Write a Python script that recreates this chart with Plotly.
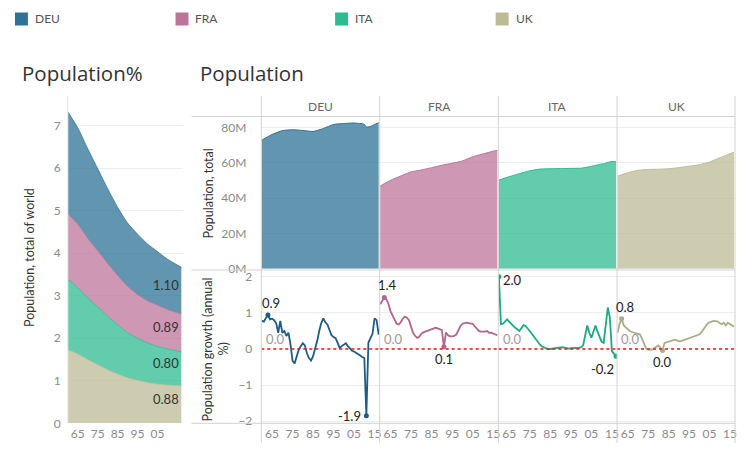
import plotly.graph_objects as go

W, H = 750, 455          # target picture size (coordinates are designed in these pixels)
FIG_H = 463              # the captured page is slightly taller than the window and is squeezed to 455

def px(x):
    return x / W

def py(y):
    return 1 - y / H

COUNTRIES = ["DEU", "FRA", "ITA", "UK"]
BASE_COLORS = ["#2e7396", "#bd7499", "#2dbb91", "#bcbb96"]
FILL_COLORS = ["rgba(46,115,150,0.75)", "rgba(189,116,153,0.75)",
               "rgba(45,187,145,0.75)", "rgba(188,187,150,0.75)"]
LINE_COLORS = ["#1f5c82", "#b0668e", "#1aab80", "#adac86"]

PCT_YEARS = [1960, 1965, 1970, 1975, 1980, 1985, 1990, 1995, 2000, 2005, 2010, 2017]
PCT_DEU = [2.40, 2.27, 2.11, 1.93, 1.76, 1.60, 1.49, 1.42, 1.34, 1.26, 1.18, 1.10]
PCT_FRA = [1.54, 1.49, 1.40, 1.32, 1.24, 1.16, 1.09, 1.03, 0.99, 0.97, 0.93, 0.89]
PCT_ITA = [1.66, 1.56, 1.45, 1.36, 1.26, 1.16, 1.06, 0.99, 0.93, 0.89, 0.85, 0.80]
PCT_UK = [1.73, 1.63, 1.50, 1.38, 1.26, 1.16, 1.07, 1.01, 0.96, 0.92, 0.90, 0.88]

POP_YEARS = [1960, 1965, 1970, 1975, 1980, 1985, 1990, 1995, 2000, 2005, 2010, 2011, 2013, 2015, 2017]
POP_DEU = [72.8, 76.0, 78.2, 78.7, 78.3, 77.7, 79.4, 81.7, 82.2, 82.5, 81.8, 80.3, 80.6, 81.7, 82.7]
POP_FRA = [46.8, 50.0, 52.5, 54.8, 55.9, 57.2, 58.6, 59.7, 61.0, 63.4, 65.0, 65.3, 65.9, 66.6, 67.0]
POP_ITA = [50.2, 52.1, 53.8, 55.4, 56.4, 56.6, 56.7, 56.8, 56.9, 58.0, 59.3, 59.4, 60.2, 60.7, 60.5]
POP_UK = [52.4, 54.3, 55.7, 56.2, 56.3, 56.6, 57.2, 58.0, 58.9, 60.4, 62.8, 63.3, 64.1, 65.1, 66.0]

YEARS = list(range(1960, 2018))
GROWTH_DEU = [0.78, 0.76, 0.86, 0.94, 0.82, 0.84, 0.80, 0.72, 0.45, 0.78,
              0.45, 0.50, 0.36, 0.45, 0.13, -0.33, -0.40, -0.20, -0.02, 0.08,
              0.16, 0.10, -0.12, -0.25, -0.32, -0.20, 0.00, 0.22, 0.50, 0.72,
              0.85, 0.74, 0.68, 0.55, 0.38, 0.33, 0.30, 0.17, 0.03, 0.08,
              0.12, 0.16, 0.08, 0.02, -0.05, -0.07, -0.10, -0.13, -0.18, -0.22,
              -0.25, -1.85, 0.18, 0.30, 0.42, 0.85, 0.80, 0.40]
GROWTH_FRA = [1.24, 1.35, 1.43, 1.38, 1.25, 1.05, 0.92, 0.78, 0.70, 0.68,
              0.74, 0.84, 0.90, 0.87, 0.80, 0.62, 0.45, 0.36, 0.31, 0.34,
              0.42, 0.46, 0.48, 0.51, 0.54, 0.56, 0.58, 0.59, 0.57, 0.54,
              0.52, 0.06, 0.46, 0.38, 0.35, 0.35, 0.36, 0.40, 0.52, 0.63,
              0.70, 0.72, 0.73, 0.72, 0.72, 0.70, 0.63, 0.57, 0.50, 0.48,
              0.47, 0.48, 0.50, 0.45, 0.45, 0.42, 0.40, 0.38]
GROWTH_ITA = [2.00, 0.69, 0.70, 0.76, 0.82, 0.76, 0.69, 0.64, 0.59, 0.54,
              0.50, 0.58, 0.66, 0.64, 0.58, 0.50, 0.42, 0.34, 0.26, 0.18,
              0.12, 0.07, 0.04, 0.02, 0.00, 0.00, 0.01, 0.02, 0.04, 0.05,
              0.05, 0.05, 0.04, 0.02, 0.01, 0.02, 0.03, 0.03, 0.03, 0.03,
              0.05, 0.10, 0.40, 0.65, 0.45, 0.31, 0.48, 0.65, 0.48, 0.31,
              0.20, 0.17, 0.65, 1.15, 0.87, -0.06, -0.13, -0.20]
GROWTH_UK = [0.45, 0.70, 0.84, 0.66, 0.60, 0.54, 0.50, 0.47, 0.45, 0.43,
             0.41, 0.40, 0.28, 0.12, 0.01, -0.02, -0.03, -0.02, 0.03, 0.07,
             0.10, 0.03, -0.04, 0.17, 0.19, 0.21, 0.23, 0.25, 0.26, 0.24,
             0.21, 0.22, 0.24, 0.26, 0.28, 0.30, 0.31, 0.33, 0.36, 0.38,
             0.40, 0.46, 0.54, 0.62, 0.70, 0.74, 0.77, 0.78, 0.77, 0.76,
             0.72, 0.69, 0.73, 0.65, 0.73, 0.70, 0.65, 0.62]

X_TICKS = [1965, 1975, 1985, 1995, 2005, 2015]
X_TICK_TEXT = ["65", "75", "85", "95", "05", "15"]
POP_TICKS = [0, 20, 40, 60, 80]
POP_TICK_TEXT = ["0M", "20M", "40M", "60M", "80M"]
GROWTH_TICKS = [-2, -1, 0, 1, 2]

PCTS = [PCT_DEU, PCT_FRA, PCT_ITA, PCT_UK]
POPS = [POP_DEU, POP_FRA, POP_ITA, POP_UK]
GROWTHS = [GROWTH_DEU, GROWTH_FRA, GROWTH_ITA, GROWTH_UK]

FONT = "Lato"
TICK_COLOR = "#8a8a8a"
GRID = "#ededed"
SEP = "#d3d3d3"

PANEL_EDGES = [262, 380.7, 499.7, 618.7, 737]
TOP_Y = (115.5, 269)
BOT_Y = (269, 422.3)
XR = [1959.75, 2017.5]

fig = go.Figure()

for i in [3, 2, 1, 0]:
    fig.add_trace(go.Scatter(
        x=PCT_YEARS, y=PCTS[i], stackgroup="pct", mode="lines",
        line=dict(color=BASE_COLORS[i], width=0.8, shape="spline", smoothing=0.6),
        fillcolor=FILL_COLORS[i], showlegend=False, hoverinfo="skip",
        xaxis="x", yaxis="y"))

cum = 0
ends = []
for i in [3, 2, 1, 0]:
    ends.append((i, cum, cum + PCTS[i][-1]))
    cum += PCTS[i][-1]

annotations = []
for i, lo, hi in ends:
    annotations.append(dict(
        x=PCT_YEARS[-1], y=(lo + hi) / 2, xref="x", yref="y",
        text=f"{PCTS[i][-1]:.2f}", showarrow=False, xanchor="right",
        yanchor="middle", yshift=6, font=dict(family=FONT, size=13, color="#333")))

layout_axes = {}
layout_axes["xaxis"] = dict(domain=[px(68), px(183)], range=[1960, 2017.6],
                            tickvals=X_TICKS[:-1], ticktext=X_TICK_TEXT[:-1],
                            showgrid=False, zeroline=False, showline=False,
                            ticks="", ticklabelstandoff=2,
                            tickfont=dict(family=FONT, size=12, color=TICK_COLOR),
                            anchor="y", fixedrange=True)
layout_axes["yaxis"] = dict(domain=[py(422.3), py(95)], range=[0, 7.7],
                            tickvals=[0, 1, 2, 3, 4, 5, 6, 7], showgrid=True,
                            gridcolor=GRID, zeroline=False, showline=False, ticks="",
                            ticklabelstandoff=6,
                            tickfont=dict(family=FONT, size=12, color=TICK_COLOR),
                            anchor="x", fixedrange=True)

shapes = []


def fmt(v):
    return f"{round(v, 1) + 0.0:.1f}"


for i in range(4):
    L, R = PANEL_EDGES[i], PANEL_EDGES[i + 1]
    xt = f"x{2 + i}"
    yt = f"y{2 + i}"
    xb = f"x{6 + i}"
    yb = f"y{6 + i}"
    layout_axes[f"xaxis{2 + i}"] = dict(domain=[px(L), px(R)], range=XR, anchor=yt,
                                        showticklabels=False, showgrid=False,
                                        zeroline=False, ticks="", fixedrange=True)
    layout_axes[f"yaxis{2 + i}"] = dict(domain=[py(TOP_Y[1]), py(TOP_Y[0])], range=[-0.8, 86.2],
                                        anchor=xt, tickvals=POP_TICKS, ticktext=POP_TICK_TEXT,
                                        showticklabels=(i == 0), showgrid=True, gridcolor=GRID,
                                        zeroline=False, ticks="", ticklabelstandoff=14,
                                        tickfont=dict(family=FONT, size=12, color=TICK_COLOR),
                                        fixedrange=True)
    layout_axes[f"xaxis{6 + i}"] = dict(domain=[px(L), px(R)], range=XR, anchor=yb,
                                        tickvals=X_TICKS, ticktext=X_TICK_TEXT,
                                        showgrid=False, zeroline=False, ticks="",
                                        ticklabelstandoff=2,
                                        tickfont=dict(family=FONT, size=12, color=TICK_COLOR),
                                        fixedrange=True)
    layout_axes[f"yaxis{6 + i}"] = dict(domain=[py(BOT_Y[1]), py(BOT_Y[0])], range=[-2.06, 2.19],
                                        anchor=xb, tickvals=GROWTH_TICKS,
                                        showticklabels=(i == 0), showgrid=True, gridcolor=GRID,
                                        zeroline=False, ticks="", ticklabelstandoff=8,
                                        tickfont=dict(family=FONT, size=12, color=TICK_COLOR),
                                        fixedrange=True)

    fig.add_trace(go.Scatter(
        x=POP_YEARS, y=POPS[i], fill="tozeroy", mode="lines",
        line=dict(color=BASE_COLORS[i], width=1, shape="spline", smoothing=0.5),
        fillcolor=FILL_COLORS[i], showlegend=False, hoverinfo="skip",
        xaxis=xt, yaxis=yt))

    g = GROWTHS[i]
    fig.add_trace(go.Scatter(
        x=YEARS, y=g, mode="lines", line=dict(color=LINE_COLORS[i], width=1.8),
        showlegend=False, hoverinfo="skip", xaxis=xb, yaxis=yb))
    imax = max(range(len(g)), key=lambda k: g[k])
    imin = min(range(len(g)), key=lambda k: g[k])
    fig.add_trace(go.Scatter(
        x=[YEARS[imax], YEARS[imin]], y=[g[imax], g[imin]], mode="markers",
        marker=dict(color=LINE_COLORS[i], size=5), showlegend=False,
        hoverinfo="skip", xaxis=xb, yaxis=yb))

    lbl_font = dict(family=FONT, size=13, color="#222")
    if i == 2:
        annotations.append(dict(x=YEARS[imax], y=g[imax], xref=xb, yref=yb, text=fmt(g[imax]),
                                showarrow=False, xanchor="left", yanchor="middle",
                                xshift=2, yshift=-3, font=lbl_font))
    else:
        annotations.append(dict(x=YEARS[imax], y=g[imax], xref=xb, yref=yb, text=fmt(g[imax]),
                                showarrow=False, xanchor="center", yanchor="bottom",
                                xshift=3, yshift=2, font=lbl_font))
    if i == 0:
        annotations.append(dict(x=YEARS[imin], y=g[imin], xref=xb, yref=yb, text=fmt(g[imin]),
                                showarrow=False, xanchor="right", yanchor="middle",
                                xshift=-3, yshift=0, font=lbl_font))
    elif i == 2:
        annotations.append(dict(x=YEARS[imin], y=g[imin], xref=xb, yref=yb, text=fmt(g[imin]),
                                showarrow=False, xanchor="right", yanchor="top",
                                xshift=0, yshift=-3, font=lbl_font))
    else:
        annotations.append(dict(x=YEARS[imin], y=g[imin], xref=xb, yref=yb, text=fmt(g[imin]),
                                showarrow=False, xanchor="center", yanchor="top",
                                xshift=0, yshift=-2, font=lbl_font))
    annotations.append(dict(x=0.02, y=0.27, xref=f"{xb} domain", yref=yb, text="0.0",
                            showarrow=False, xanchor="left", yanchor="middle",
                            font=dict(family=FONT, size=13, color="#9a9a9a")))
    shapes.append(dict(type="line", xref=f"{xb} domain", yref=yb, x0=0, x1=1, y0=0, y1=0,
                       line=dict(color="#e8161b", width=1.3, dash="dot")))
    annotations.append(dict(x=px((L + R) / 2), y=py(105), xref="paper", yref="paper",
                            text=COUNTRIES[i], showarrow=False, xanchor="center",
                            yanchor="middle", font=dict(family=FONT, size=12, color="#666")))

for xe in PANEL_EDGES:
    shapes.append(dict(type="line", xref="paper", yref="paper", x0=px(xe), x1=px(xe),
                       y0=py(95), y1=py(442), line=dict(color=SEP, width=1)))
for ye in [115.5, 269, 422.3]:
    shapes.append(dict(type="line", xref="paper", yref="paper", x0=px(192), x1=px(737),
                       y0=py(ye), y1=py(ye), line=dict(color=SEP, width=1)))
shapes.append(dict(type="line", xref="paper", yref="paper", x0=px(68), x1=px(68),
                   y0=py(95), y1=py(422.3), line=dict(color="#e4e4e4", width=1)))

LEG_X = [15, 176, 336, 497]
for i, lx in enumerate(LEG_X):
    shapes.append(dict(type="rect", xref="paper", yref="paper", x0=px(lx), x1=px(lx + 13),
                       y0=py(24.5), y1=py(11.5), fillcolor=BASE_COLORS[i], line=dict(width=0)))
    annotations.append(dict(x=px(lx + 18), y=py(18), xref="paper", yref="paper",
                            text=COUNTRIES[i], showarrow=False, xanchor="left", yanchor="middle",
                            font=dict(family=FONT, size=12, color="#555")))

annotations.append(dict(x=px(20), y=py(72), xref="paper", yref="paper", text="Population%",
                        showarrow=False, xanchor="left", yanchor="middle",
                        font=dict(family="Open Sans", size=20.5, color="#333")))
annotations.append(dict(x=px(199), y=py(72), xref="paper", yref="paper", text="Population",
                        showarrow=False, xanchor="left", yanchor="middle",
                        font=dict(family="Open Sans", size=20.5, color="#333")))

AX_FONT = dict(family=FONT, size=12.5, color="#333")
annotations.append(dict(x=px(29), y=py(256), xref="paper", yref="paper",
                        text="Population, total of world", textangle=-90, showarrow=False,
                        xanchor="center", yanchor="middle", font=AX_FONT))
annotations.append(dict(x=px(209), y=py(192), xref="paper", yref="paper",
                        text="Population, total", textangle=-90, showarrow=False,
                        xanchor="center", yanchor="middle", font=AX_FONT))
annotations.append(dict(x=px(208), y=py(348), xref="paper", yref="paper",
                        text="Population growth (annual", textangle=-90, showarrow=False,
                        xanchor="center", yanchor="middle", font=AX_FONT))
annotations.append(dict(x=px(224), y=py(348), xref="paper", yref="paper",
                        text="%)", textangle=-90, showarrow=False,
                        xanchor="center", yanchor="middle", font=AX_FONT))

fig.update_layout(
    width=W, height=FIG_H, margin=dict(l=0, r=0, t=0, b=0),
    paper_bgcolor="white", plot_bgcolor="white",
    showlegend=False, annotations=annotations, shapes=shapes,
    font=dict(family=FONT),
    **layout_axes)

fig.write_html("out.html", config={"displayModeBar": False, "staticPlot": True},
               post_script=("document.documentElement.style.margin='0px';"
                            "document.body.style.margin='0px';"
                            "document.body.style.padding='0px';"
                            "document.documentElement.style.overflow='hidden';"
                            "document.body.style.overflow='hidden';"))
